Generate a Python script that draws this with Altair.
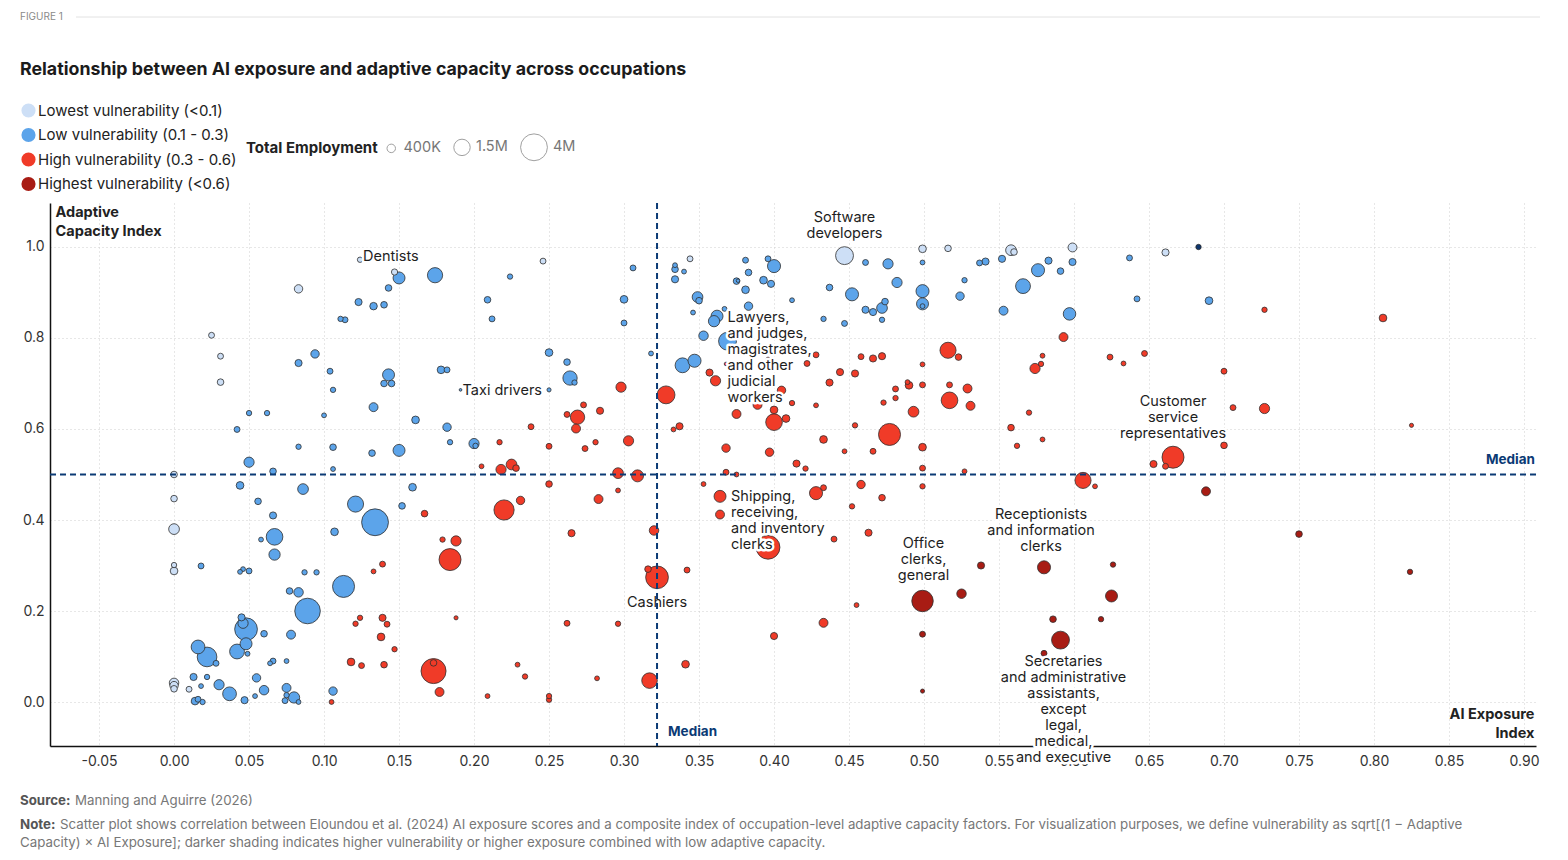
import altair as alt
import pandas as pd

# ---------------------------------------------------------------------------
# Occupations: AI exposure index, adaptive capacity index, employment
# (thousands) and vulnerability band (0 lowest .. 3 highest, 4 unclassified)
# ---------------------------------------------------------------------------
EXPOSURE = [
    # high capacity / low exposure block
    0.124, 0.147, 0.150, 0.174, 0.083, 0.143, 0.123, 0.133, 0.140, 0.111,
    0.114, 0.025, 0.031, 0.031, 0.083, 0.094, 0.104, 0.106, 0.143, 0.140,
    0.145, 0.133, 0.050, 0.062, 0.100, 0.042, 0.161, 0.083, 0.106, 0.132,
    0.150, 0.050, 0.066, 0.106, 0.000,
    # low capacity / low exposure block
    0.044, 0.086, 0.000, 0.056, 0.066, 0.121, 0.134, 0.159, 0.152, 0.167,
    0.000, 0.107, 0.067, 0.058, 0.067, 0.018, 0.000, 0.000, 0.044, 0.046,
    0.050, 0.087, 0.095, 0.133, 0.139, 0.113, 0.077, 0.083, 0.089, 0.045,
    0.048, 0.046, 0.060, 0.078, 0.016, 0.022, 0.028, 0.048, 0.042, 0.049,
    0.064, 0.066, 0.075, 0.013, 0.022, 0.018, 0.010, 0.000, 0.000, 0.000,
    0.030, 0.037, 0.055, 0.060, 0.047, 0.054, 0.014, 0.016, 0.019, 0.075,
    0.075, 0.074, 0.080, 0.083, 0.106, 0.105, 0.139, 0.142, 0.124, 0.121,
    0.138, 0.147, 0.118, 0.125, 0.140, 0.173, 0.173,
    # middle exposure, upper half
    0.246, 0.224, 0.306, 0.209, 0.212, 0.300, 0.300, 0.318, 0.250, 0.262,
    0.264, 0.267, 0.178, 0.182, 0.191, 0.250, 0.182, 0.184, 0.200, 0.201,
    0.217, 0.205, 0.218, 0.225, 0.228, 0.238, 0.250, 0.262, 0.269, 0.273,
    0.268, 0.284, 0.274, 0.281, 0.298, 0.303, 0.296, 0.309, 0.328, 0.333,
    0.337, 0.334, 0.334, 0.344, 0.340, 0.334, 0.381, 0.396, 0.400, 0.383,
    0.375, 0.376, 0.393, 0.398, 0.381, 0.349, 0.350, 0.346, 0.412, 0.383,
    0.367, 0.362, 0.360, 0.353, 0.369, 0.339, 0.347, 0.357, 0.361, 0.368,
    0.396, 0.405, 0.375, 0.389, 0.400, 0.400, 0.408, 0.412, 0.368, 0.397,
    0.415, 0.368, 0.375,
    # middle exposure, lower half
    0.250, 0.296, 0.283, 0.231, 0.220, 0.179, 0.188, 0.184, 0.265, 0.320,
    0.353, 0.364, 0.364, 0.396, 0.322, 0.316, 0.342, 0.188, 0.262, 0.296,
    0.400, 0.177, 0.229, 0.234, 0.209, 0.250, 0.250, 0.282, 0.317, 0.341,
    # high exposure, upper half
    0.447, 0.461, 0.476, 0.499, 0.499, 0.516, 0.537, 0.541, 0.552, 0.558,
    0.560, 0.599, 0.599, 0.583, 0.576, 0.591, 0.566, 0.527, 0.524, 0.482,
    0.499, 0.499, 0.499, 0.437, 0.452, 0.461, 0.466, 0.472, 0.474, 0.472,
    0.433, 0.447, 0.553, 0.597, 0.637, 0.642, 0.661, 0.593, 0.516, 0.523,
    0.499, 0.458, 0.466, 0.472, 0.422, 0.428, 0.444, 0.454, 0.437, 0.481,
    0.489, 0.490, 0.499, 0.517, 0.529, 0.481, 0.473, 0.517, 0.531, 0.493,
    0.428, 0.454, 0.477, 0.433, 0.447, 0.466, 0.499, 0.499, 0.527, 0.421,
    0.574, 0.578, 0.579, 0.570, 0.558, 0.562, 0.579, 0.624, 0.633, 0.647,
    0.653, 0.666, 0.606,
    # high exposure, lower half
    0.428, 0.433, 0.458, 0.472, 0.452, 0.499, 0.440, 0.463, 0.614, 0.538,
    0.580, 0.626, 0.499, 0.525, 0.625, 0.455, 0.433, 0.586, 0.618, 0.499,
    0.591, 0.580, 0.499,
    # highest exposure
    0.683, 0.690, 0.727, 0.806, 0.700, 0.706, 0.727, 0.825, 0.700, 0.661,
    0.688, 0.750, 0.824,
]

CAPACITY = [
    0.972, 0.945, 0.932, 0.938, 0.908, 0.910, 0.879, 0.870, 0.873, 0.842,
    0.840, 0.806, 0.760, 0.703, 0.745, 0.765, 0.727, 0.686, 0.719, 0.700,
    0.700, 0.648, 0.635, 0.635, 0.630, 0.599, 0.620, 0.561, 0.560, 0.547,
    0.553, 0.527, 0.507, 0.512, 0.500,

    0.476, 0.468, 0.447, 0.441, 0.410, 0.435, 0.395, 0.472, 0.431, 0.414,
    0.380, 0.374, 0.363, 0.357, 0.324, 0.299, 0.301, 0.288, 0.286, 0.292,
    0.288, 0.285, 0.285, 0.287, 0.303, 0.254, 0.244, 0.241, 0.200, 0.186,
    0.160, 0.173, 0.150, 0.148, 0.121, 0.099, 0.085, 0.128, 0.111, 0.106,
    0.085, 0.090, 0.090, 0.055, 0.055, 0.035, 0.028, 0.042, 0.036, 0.029,
    0.038, 0.018, 0.053, 0.026, 0.004, 0.013, 0.002, 0.006, 0.000, 0.031,
    0.015, 0.003, 0.010, 0.000, 0.024, 0.000, 0.185, 0.171, 0.185, 0.172,
    0.143, 0.116, 0.088, 0.080, 0.082, 0.068, 0.086,

    0.969, 0.935, 0.954, 0.884, 0.842, 0.885, 0.833, 0.766, 0.768, 0.747,
    0.712, 0.702, 0.730, 0.730, 0.686, 0.686, 0.604, 0.571, 0.568, 0.563,
    0.571, 0.518, 0.511, 0.522, 0.514, 0.605, 0.562, 0.632, 0.626, 0.653,
    0.601, 0.640, 0.557, 0.571, 0.692, 0.574, 0.503, 0.497, 0.675, 0.599,
    0.606, 0.960, 0.951, 0.974, 0.946, 0.929, 0.971, 0.974, 0.958, 0.944,
    0.925, 0.926, 0.927, 0.919, 0.906, 0.890, 0.882, 0.856, 0.883, 0.870,
    0.864, 0.848, 0.837, 0.805, 0.793, 0.740, 0.750, 0.724, 0.706, 0.743,
    0.754, 0.685, 0.633, 0.653, 0.642, 0.615, 0.623, 0.657, 0.558, 0.549,
    0.524, 0.505, 0.500,

    0.479, 0.465, 0.446, 0.443, 0.422, 0.357, 0.354, 0.313, 0.371, 0.377,
    0.479, 0.452, 0.412, 0.340, 0.274, 0.292, 0.290, 0.185, 0.173, 0.172,
    0.145, 0.022, 0.082, 0.056, 0.013, 0.013, 0.005, 0.052, 0.047, 0.083,

    0.981, 0.966, 0.963, 0.996, 0.966, 0.997, 0.965, 0.968, 0.974, 0.993,
    0.989, 0.999, 0.967, 0.970, 0.949, 0.947, 0.914, 0.927, 0.892, 0.922,
    0.903, 0.875, 0.870, 0.911, 0.896, 0.862, 0.857, 0.866, 0.880, 0.840,
    0.842, 0.832, 0.860, 0.853, 0.976, 0.886, 0.988, 0.802, 0.773, 0.758,
    0.742, 0.759, 0.755, 0.760, 0.744, 0.763, 0.725, 0.722, 0.702, 0.688,
    0.703, 0.696, 0.697, 0.697, 0.689, 0.668, 0.658, 0.663, 0.651, 0.638,
    0.652, 0.608, 0.588, 0.577, 0.551, 0.551, 0.560, 0.514, 0.507, 0.513,
    0.733, 0.743, 0.761, 0.636, 0.603, 0.563, 0.577, 0.758, 0.744, 0.766,
    0.523, 0.538, 0.487,

    0.459, 0.471, 0.478, 0.449, 0.430, 0.474, 0.358, 0.372, 0.474, 0.300,
    0.296, 0.302, 0.222, 0.238, 0.233, 0.213, 0.174, 0.182, 0.182, 0.149,
    0.136, 0.107, 0.024,

    1.000, 0.882, 0.862, 0.844, 0.727, 0.647, 0.645, 0.608, 0.564, 0.518,
    0.463, 0.369, 0.286,
]

EMPLOYMENT_K = [
    160, 218, 798, 1285, 392, 243, 284, 314, 243, 160,
    194, 194, 194, 243, 284, 392, 194, 160, 798, 243,
    243, 444, 160, 160, 130, 194, 329, 160, 243, 243,
    798, 578, 243, 130, 243,

    329, 640, 243, 243, 284, 1440, 4000, 329, 243, 243,
    640, 329, 1538, 130, 706, 194, 160, 329, 130, 130,
    194, 160, 160, 130, 194, 2690, 243, 500, 3636, 284,
    2868, 578, 243, 444, 1054, 2151, 194, 798, 1225, 130,
    130, 194, 130, 284, 160, 130, 194, 500, 392, 243,
    578, 1054, 392, 500, 284, 130, 329, 194, 160, 444,
    160, 194, 706, 130, 392, 130, 284, 194, 160, 160,
    329, 160, 329, 194, 243, 3485, 243,

    194, 160, 194, 243, 194, 329, 194, 130, 329, 243,
    1138, 160, 329, 194, 40, 94, 392, 160, 578, 160,
    160, 130, 578, 640, 243, 194, 194, 194, 1138, 194,
    444, 284, 194, 160, 578, 578, 640, 798, 1778, 130,
    284, 130, 243, 194, 130, 284, 194, 194, 948, 243,
    243, 71, 329, 284, 329, 640, 243, 130, 130, 392,
    130, 798, 706, 500, 1778, 1225, 948, 284, 578, 71,
    71, 392, 444, 444, 329, 1538, 329, 160, 392, 392,
    284, 194, 130,

    243, 130, 444, 392, 2270, 160, 578, 2690, 284, 500,
    130, 798, 444, 3145, 2868, 243, 194, 94, 194, 160,
    284, 444, 130, 160, 130, 160, 160, 130, 1346, 329,

    1778, 194, 578, 329, 130, 243, 194, 284, 284, 640,
    243, 444, 284, 284, 948, 243, 1225, 160, 392, 578,
    948, 798, 130, 243, 948, 284, 284, 640, 243, 160,
    160, 194, 444, 871, 194, 194, 284, 444, 1440, 243,
    130, 194, 284, 284, 194, 194, 284, 284, 284, 194,
    130, 329, 194, 194, 444, 160, 160, 1538, 444, 640,
    130, 160, 2690, 329, 130, 194, 329, 194, 130, 160,
    578, 160, 130, 160, 243, 160, 130, 194, 130, 194,
    284, 2690, 1440,

    948, 194, 392, 243, 160, 160, 194, 284, 130, 284,
    948, 160, 2560, 500, 798, 130, 444, 243, 160, 194,
    1778, 194, 94,

    160, 329, 160, 329, 194, 194, 578, 94, 243, 194,
    444, 243, 160,
]

VULN_GROUP = [
    0, 0, 1, 1, 0, 1, 1, 1, 1, 1,
    1, 0, 0, 0, 1, 1, 1, 1, 1, 1,
    1, 1, 1, 1, 1, 1, 1, 1, 1, 1,
    1, 1, 1, 1, 0,

    1, 1, 0, 1, 1, 1, 1, 1, 1, 2,
    0, 1, 1, 1, 1, 1, 0, 0, 1, 1,
    1, 1, 1, 2, 2, 1, 1, 1, 1, 1,
    1, 1, 1, 1, 1, 1, 1, 1, 1, 1,
    1, 1, 1, 1, 1, 1, 0, 0, 0, 0,
    1, 1, 1, 1, 1, 1, 1, 1, 1, 1,
    1, 1, 1, 1, 1, 2, 2, 2, 2, 2,
    2, 2, 2, 2, 2, 2, 2,

    0, 1, 1, 1, 1, 1, 1, 1, 1, 1,
    1, 1, 1, 1, 1, 1, 1, 1, 1, 1,
    2, 2, 2, 2, 2, 2, 2, 2, 2, 2,
    2, 2, 2, 2, 2, 2, 2, 2, 2, 2,
    2, 1, 1, 0, 1, 1, 1, 1, 1, 1,
    1, 1, 1, 1, 1, 1, 1, 1, 1, 1,
    1, 1, 1, 1, 1, 1, 1, 2, 2, 2,
    2, 2, 2, 2, 2, 2, 2, 2, 2, 2,
    2, 2, 2,

    2, 2, 2, 2, 2, 2, 2, 2, 2, 2,
    2, 2, 2, 2, 2, 2, 2, 2, 2, 2,
    2, 2, 2, 2, 2, 2, 2, 2, 2, 2,

    0, 1, 1, 0, 1, 0, 1, 1, 1, 0,
    0, 0, 1, 1, 1, 1, 1, 1, 1, 1,
    1, 1, 1, 1, 1, 1, 1, 1, 1, 1,
    1, 1, 1, 1, 1, 1, 0, 2, 2, 2,
    2, 2, 2, 2, 2, 2, 2, 2, 2, 2,
    2, 2, 2, 2, 2, 2, 2, 2, 2, 2,
    2, 2, 2, 2, 2, 2, 2, 2, 2, 2,
    2, 2, 2, 2, 2, 2, 2, 2, 2, 2,
    2, 2, 2,

    2, 2, 2, 2, 2, 2, 2, 2, 2, 3,
    3, 3, 3, 3, 3, 2, 2, 3, 3, 3,
    3, 3, 3,

    4, 1, 2, 2, 2, 2, 2, 2, 2, 2,
    3, 3, 3,
]

VULN_NAMES = [
    "Lowest vulnerability (<0.1)",
    "Low vulnerability (0.1 - 0.3)",
    "High vulnerability (0.3 - 0.6)",
    "Highest vulnerability (<0.6)",
    "Unclassified",
]
VULN_COLORS = ["#cddff6", "#5ca4ea", "#f03b28", "#a81c14", "#0e366f"]

# Named occupations (row index -> label text)
LABELS = {
    0: "Dentists",
    126: "Taxi drivers",
    176: "Lawyers,\nand judges,\nmagistrates,\nand other\njudicial\nworkers",
    206: "Shipping,\nreceiving,\nand inventory\nclerks",
    209: "Cashiers",
    225: "Software\ndevelopers",
    306: "Customer\nservice\nrepresentatives",
    318: "Receptionists\nand information\nclerks",
    320: "Office\nclerks,\ngeneral",
    328: "Secretaries\nand administrative\nassistants,\nexcept\nlegal,\nmedical,\nand executive",
}
# text placement for each named occupation: (align, dx, dy of the first line)
LABEL_PLACEMENT = {
    0: ("left", 3, -3),
    126: ("left", 2, 1),
    176: ("left", 0, -23),
    206: ("left", 11, 1),
    209: ("center", 0, 26),
    225: ("center", 0, -38),
    306: ("center", 0, -55),
    318: ("center", -3, -52),
    320: ("center", 1, -57),
    328: ("center", 3, 22),
}

MEDIAN_EXPOSURE = 0.322
MEDIAN_CAPACITY = 0.50

X_TICKS = [-0.05, 0.0, 0.05, 0.10, 0.15, 0.20, 0.25, 0.30, 0.35, 0.40,
           0.45, 0.50, 0.55, 0.60, 0.65, 0.70, 0.75, 0.80, 0.85, 0.90]
Y_TICKS = [0.0, 0.2, 0.4, 0.6, 0.8, 1.0]
SIZE_LEGEND_VALUES = [400000, 1500000, 4000000]

NOTE_LINE_1 = ("Scatter plot shows correlation between Eloundou et al. (2024) AI exposure scores and a "
               "composite index of occupation-level adaptive capacity factors. For visualization purposes, "
               "we define vulnerability as sqrt[(1 \u2212 Adaptive")
NOTE_LINE_2 = ("Capacity) \u00d7 AI Exposure]; darker shading indicates higher vulnerability or higher "
               "exposure combined with low adaptive capacity.")

n = len(EXPOSURE)
assert n == len(CAPACITY) == len(EMPLOYMENT_K) == len(VULN_GROUP)

df = pd.DataFrame({
    "row": list(range(n)),
    "exposure": EXPOSURE,
    "capacity": CAPACITY,
    "employment": [e * 1000 for e in EMPLOYMENT_K],
    "vulnerability": [VULN_NAMES[g] for g in VULN_GROUP],
    "label": [LABELS.get(i, "") for i in range(n)],
}).sort_values("employment", ascending=False)

W, H = 1486, 543
FONT = "Inter"
NAVY = "#0b3a75"

X_SCALE = alt.Scale(domain=[-0.0827, 0.9080], nice=False, zero=False)
Y_SCALE = alt.Scale(domain=[-0.0967, 1.0967], nice=False, zero=False)

X_AXIS = alt.Axis(
    values=X_TICKS,
    labelExpr="replace(format(datum.value, '.2f'), '\u2212', '-')",
    title=["AI Exposure", "Index"],
    titleAngle=0, titleAlign="right", titleBaseline="bottom",
    titleX=W - 2, titleY=-25, titleLineHeight=19,
    titleFont=FONT, titleFontSize=14.5, titleFontWeight=700, titleColor="#222",
    labelFont=FONT, labelFontSize=14, labelColor="#333", labelPadding=8,
    labelOverlap=False, labelFlush=False,
    ticks=False, domainColor="#111", domainWidth=1.5,
    grid=True, gridColor="#cfcfcf", gridDash=[1, 3], gridWidth=1,
)
Y_AXIS = alt.Axis(
    values=Y_TICKS, format=".1f",
    title=["Adaptive", "Capacity Index"],
    titleAngle=0, titleAlign="left", titleBaseline="top",
    titleX=5, titleY=2, titleLineHeight=19,
    titleFont=FONT, titleFontSize=14.5, titleFontWeight=700, titleColor="#222",
    labelFont=FONT, labelFontSize=14, labelColor="#333", labelPadding=6,
    ticks=False, domainColor="#111", domainWidth=1.5,
    grid=True, gridColor="#cfcfcf", gridDash=[1, 3], gridWidth=1,
)


def x_enc(field):
    return alt.X(field, scale=X_SCALE, axis=X_AXIS)


def y_enc(field):
    return alt.Y(field, scale=Y_SCALE, axis=Y_AXIS)


points = alt.Chart(df).mark_circle(stroke="#2e2e2e", strokeWidth=0.8, opacity=1).encode(
    x=x_enc("exposure:Q"),
    y=y_enc("capacity:Q"),
    color=alt.Color(
        "vulnerability:N",
        scale=alt.Scale(domain=VULN_NAMES, range=VULN_COLORS),
        legend=alt.Legend(
            title=None, orient="none", legendX=-29, legendY=-100,
            direction="vertical", values=VULN_NAMES[:4],
            symbolType="circle", symbolSize=200, symbolStrokeWidth=0, symbolOpacity=1,
            labelFont=FONT, labelFontSize=15, labelColor="#222", labelOffset=2,
            rowPadding=8.5, padding=0, labelLimit=400,
        ),
    ),
    size=alt.Size(
        "employment:Q",
        scale=alt.Scale(domain=[0, 4000000], range=[0, 720]),
        legend=alt.Legend(
            title="Total Employment", orient="none", legendX=196, legendY=-70,
            direction="horizontal", values=SIZE_LEGEND_VALUES,
            labelExpr="datum.value >= 1000000 ? format(datum.value / 1000000, '.2~f') + 'M' : format(datum.value / 1000, 'd') + 'K'",
            titleOrient="left", titleAnchor="middle", titleBaseline="middle",
            titleFont=FONT, titleFontSize=15, titleFontWeight=700, titleColor="#222",
            titlePadding=6,
            symbolType="circle", symbolFillColor="white", symbolStrokeColor="#a0a0a0",
            symbolStrokeWidth=1, symbolOpacity=1,
            labelFont=FONT, labelFontSize=14.5, labelColor="#777", labelOffset=5,
            columnPadding=10, padding=0,
        ),
    ),
    order=alt.Order("employment:Q", sort="descending"),
)

# occupation labels: white halo underneath, dark text on top
label_layers = []
for row, text in LABELS.items():
    align, dx, dy = LABEL_PLACEMENT[row]
    base = alt.Chart(df).transform_filter(alt.FieldEqualPredicate(field="row", equal=row))
    enc = dict(x=x_enc("exposure:Q"), y=y_enc("capacity:Q"), text="label:N")
    common = dict(align=align, baseline="middle", dx=dx, dy=dy, lineBreak="\n",
                  lineHeight=16, font=FONT, fontSize=14.5)
    label_layers.append(base.mark_text(color="white", stroke="white", strokeWidth=5,
                                       strokeJoin="round", **common).encode(**enc))
    label_layers.append(base.mark_text(color="#1e1e1e", **common).encode(**enc))

median_x_df = pd.DataFrame({"m": [MEDIAN_EXPOSURE], "t": ["Median"]})
median_y_df = pd.DataFrame({"m": [MEDIAN_CAPACITY], "t": ["Median"]})

median_x = alt.Chart(median_x_df).mark_rule(color=NAVY, strokeWidth=2, strokeDash=[6, 4]).encode(
    x=x_enc("m:Q"))
median_y = alt.Chart(median_y_df).mark_rule(color=NAVY, strokeWidth=2, strokeDash=[6, 4]).encode(
    y=y_enc("m:Q"))
median_x_text = alt.Chart(median_x_df).mark_text(
    align="left", baseline="middle", dx=11, font=FONT, fontSize=13.5, fontWeight=700, color=NAVY
).encode(x=x_enc("m:Q"), y=alt.value(H - 14), text="t:N")
median_y_text = alt.Chart(median_y_df).mark_text(
    align="right", baseline="middle", dy=-15, font=FONT, fontSize=13.5, fontWeight=700, color=NAVY
).encode(x=alt.value(W - 1), y=y_enc("m:Q"), text="t:N")


def caption(text, x, y, size, color, weight="normal"):
    return alt.Chart(pd.DataFrame({"t": [text]})).mark_text(
        align="left", baseline="middle", font=FONT, fontSize=size, fontWeight=weight, color=color
    ).encode(x=alt.value(x), y=alt.value(y), text="t:N")


figure_rule = alt.Chart(pd.DataFrame({"t": [""]})).mark_rule(color="#e2e2e2", strokeWidth=1).encode(
    x=alt.value(26), x2=alt.value(1490), y=alt.value(-186))

header = [
    caption("FIGURE 1", -30, -186, 10, "#8a8a8a"),
    figure_rule,
    caption("Relationship between AI exposure and adaptive capacity across occupations",
            -30, -133, 17.8, "#1b1b1b", 700),
]
footer = [
    caption("Source:", -30, 598, 13.3, "#555", 700),
    caption("Manning and Aguirre (2026)", 25, 598, 13.3, "#777"),
    caption("Note:", -30, 622, 13.3, "#555", 700),
    caption(NOTE_LINE_1, 10, 622, 13.3, "#777"),
    caption(NOTE_LINE_2, -30, 640, 13.3, "#777"),
]

chart = alt.layer(
    points, *label_layers, median_x, median_y, median_x_text, median_y_text, *header, *footer
).properties(
    width=W, height=H,
    autosize=alt.AutoSizeParams(type="none"),
    padding={"left": 50, "top": 203, "right": 32, "bottom": 114},
    background="white",
).configure(font=FONT).configure_view(stroke=None)

chart.save("out.html", embed_options={"renderer": "svg", "actions": False})
